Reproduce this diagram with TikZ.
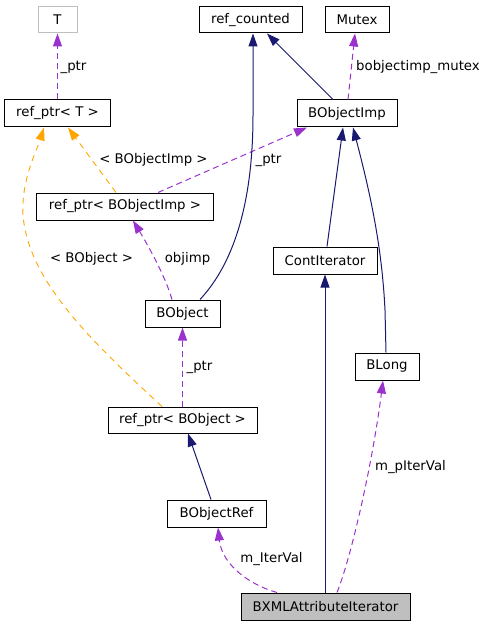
\documentclass[tikz,border=0pt]{standalone}
\usepackage{fontspec}
\setmainfont{DejaVu Sans}
\usetikzlibrary{arrows.meta}
\definecolor{navyc}{HTML}{191970}
\definecolor{purpc}{HTML}{9A32CD}
\definecolor{orngc}{HTML}{FFA500}
\definecolor{grayc}{HTML}{BFBFBF}
\tikzset{
  box/.style={draw=black, line width=1bp, minimum height=27bp, inner sep=0pt, fill=white},
  lbl/.style={inner sep=0pt},
  inh/.style={draw=navyc, line width=1bp, -{Triangle[length=13bp,width=9bp]}},
  usedep/.style={draw=purpc, line width=1bp, dash pattern=on 6bp off 4bp, -{Triangle[length=13bp,width=9bp]}},
  tmpl/.style={draw=orngc, line width=0.9bp, dash pattern=on 6bp off 5bp, -{Triangle[length=13bp,width=9bp]}},
}
\begin{document}
\begin{tikzpicture}[x=1bp,y=-1bp, every node/.style={font=\fontsize{13.35}{16}\selectfont}]
\useasboundingbox (0,0) rectangle (489,627);
% nodes
\node[box, draw=grayc, minimum width=39bp, minimum height=26bp] (T) at (57.5,20) {T};
\node[box, minimum width=105bp] (rT) at (57.5,113.5) {ref\_ptr< T >};
\node[box, minimum width=103bp, minimum height=26bp] (rc) at (250.5,20) {ref\_counted};
\node[box, minimum width=64bp, minimum height=26bp] (mx) at (357,20) {Mutex};
\node[box, minimum width=100bp] (BI) at (347,113.5) {BObjectImp};
\node[box, minimum width=176bp] (rBI) at (125,206.5) {ref\_ptr< BObjectImp >};
\node[box, minimum width=104bp] (CI) at (325,260.5) {ContIterator};
\node[box, minimum width=75bp] (BO) at (182.5,313.5) {BObject};
\node[box, minimum width=64bp] (BL) at (387,366.5) {BLong};
\node[box, minimum width=149bp, minimum height=26bp] (rBO) at (182.5,420) {ref\_ptr< BObject >};
\node[box, minimum width=99bp] (BR) at (216.5,513.5) {BObjectRef};
\node[box, fill=grayc, minimum width=169bp] (BX) at (325.5,606.5) {BXMLAttributeIterator};
% edges
\draw[usedep] (rT.north) -- (T.south);
\draw[tmpl] ([xshift=-9bp]rBI.north) -- ([xshift=10.5bp]rT.south);
\draw[tmpl] ([xshift=-20.5bp]rBO.north) .. controls (90,340) and (28,280) .. (23,215)
   .. controls (21,180) and (37,150) .. ([xshift=-13.5bp]rT.south);
\draw[usedep] ([xshift=33bp]rBI.north) -- ([xshift=-40bp]BI.south);
\draw[inh] ([xshift=17.5bp]BO.north) .. controls (235,262) and (253,200) .. (253,115) -- ([xshift=2.5bp]rc.south);
\draw[inh] ([xshift=-14bp]BI.north) -- ([xshift=16.5bp]rc.south);
\draw[usedep] ([xshift=1bp]BI.north) -- ([xshift=-2bp]mx.south);
\draw[inh] ([xshift=2bp]CI.north) -- ([xshift=-4bp]BI.south);
\draw[inh] ([xshift=-1bp]BL.north) -- (385,310) .. controls (382,250) and (372,200) .. ([xshift=6bp]BI.south);
\draw[usedep] (rBO.north) -- (BO.south);
\draw[usedep] ([xshift=-10.5bp]BO.north) .. controls (165,275) and (146,242) .. ([xshift=8bp]rBI.south);
\draw[inh] ([xshift=-5.5bp]BR.north) -- ([xshift=5.5bp]rBO.south);
\draw[usedep] ([xshift=-48.5bp]BX.north) .. controls (250,585) and (222,565) .. ([xshift=1.5bp]BR.south);
\draw[inh] ([xshift=-0.5bp]BX.north) -- (CI.south);
\draw[usedep] ([xshift=11.5bp]BX.north) .. controls (352,555) and (373,460) .. ([xshift=-4bp]BL.south);
% labels
\node[lbl] (l1) at (73.5,67) {\_ptr};
\node[lbl] (l2) at (153.5,160) {< BObjectImp >};
\node[lbl] (l3) at (91.5,259) {< BObject >};
\node[lbl] (l4) at (268.5,160) {\_ptr};
\node[lbl] (l5) at (418,67) {bobjectimp\_mutex};
\node[lbl] (l6) at (199.5,367) {\_ptr};
\node[lbl] (l7) at (187.5,259) {objimp};
\node[lbl] (l8) at (271.5,559) {m\_IterVal};
\node[lbl] (l9) at (410.5,467) {m\_pIterVal};
\end{tikzpicture}
\end{document}
